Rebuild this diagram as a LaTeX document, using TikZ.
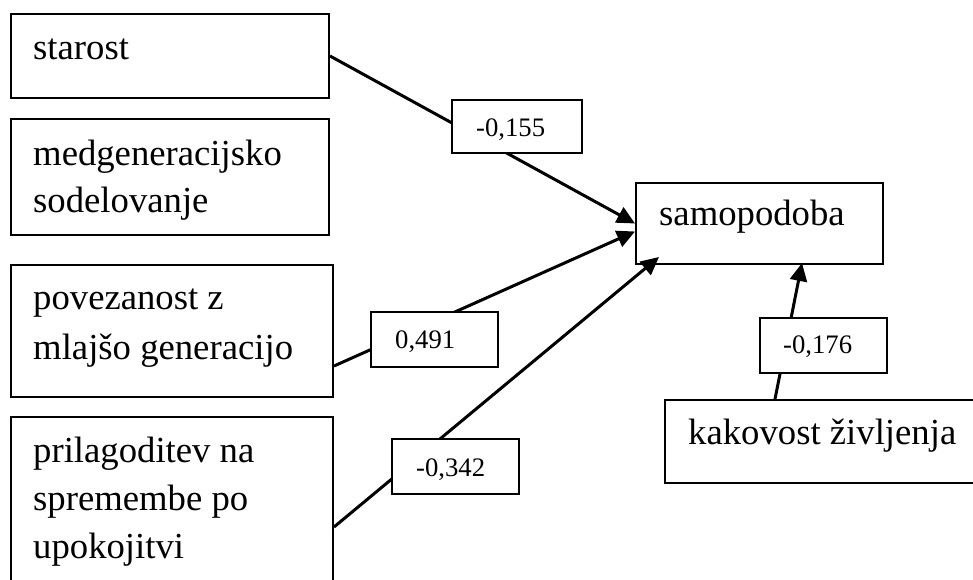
\documentclass[tikz,border=0pt]{standalone}
\usepackage{fontspec}
\setmainfont{Liberation Serif}
\usetikzlibrary{arrows.meta,calc}
\begin{document}
\begin{tikzpicture}[x=1pt,y=-1pt,
  box/.style={draw, line width=2pt, rectangle, inner sep=0pt, anchor=north west},
  txt/.style={anchor=base west, inner sep=0pt, font=\fontsize{36.7}{44}\selectfont},
  lab/.style={draw, fill=white, line width=2pt, rectangle, inner sep=0pt, anchor=north west},
  labtxt/.style={anchor=base west, inner sep=0pt, font=\fontsize{26.7}{32}\selectfont},
  conn/.style={line width=3pt, -{Triangle[length=18pt,width=17pt]}}]
\useasboundingbox (0,0) rectangle (973,580);
\clip (0,0) rectangle (973,580);
% boxes
\node[box, minimum width=318pt, minimum height=84pt] (starost) at (10,13) {};
\node[box, minimum width=318pt, minimum height=116pt] (medgen) at (10,118) {};
\node[box, minimum width=322pt, minimum height=132pt] (povez) at (10,264) {};
\node[box, minimum width=322pt, minimum height=200pt] (prilag) at (10,416) {};
\node[box, minimum width=247pt, minimum height=81pt] (samo) at (635,182) {};
\node[box, minimum width=330pt, minimum height=83pt] (kakov) at (664,399) {};
% box texts
\node[txt] (t1) at (33,60) {starost};
\node[txt] (t2a) at (33,165) {medgeneracijsko};
\node[txt] (t2b) at (33,212) {sodelovanje};
\node[txt] (t3a) at (33,309) {povezanost z};
\node[txt] (t3b) at (33,359) {mlajšo generacijo};
\node[txt] (t4a) at (33,462) {prilagoditev na};
\node[txt] (t4b) at (33,510) {spremembe po};
\node[txt] (t4c) at (33,558) {upokojitvi};
\node[txt] (t5) at (659,225) {samopodoba};
\node[txt] (t6) at (688,444) {kakovost življenja};
% connectors
\draw[conn] (starost.east) -- (samo.west);
\draw[conn] ($(povez.east)+(0,35)$) -- ($(samo.west)+(0,8)$);
\draw[conn] ($(prilag.north east)+(0,111)$) -- ($(samo.south west)+(24,-8)$);
\draw[conn] ($(kakov.north west)+(111,0)$) -- ($(samo.south west)+(167,-2)$);
% coefficient labels
\node[lab, minimum width=130pt, minimum height=53pt] (l155) at (451,99) {};
\node[lab, minimum width=127pt, minimum height=55pt] (l491) at (370,311) {};
\node[lab, minimum width=127pt, minimum height=55pt] (l342) at (391,438) {};
\node[lab, minimum width=127pt, minimum height=55pt] (l176) at (759,317) {};
\node[labtxt] (c155) at (476,137) {-0,155};
\node[labtxt] (c491) at (395,348) {0,491};
\node[labtxt] (c342) at (416,476) {-0,342};
\node[labtxt] (c176) at (783,353) {-0,176};
\end{tikzpicture}
\end{document}
